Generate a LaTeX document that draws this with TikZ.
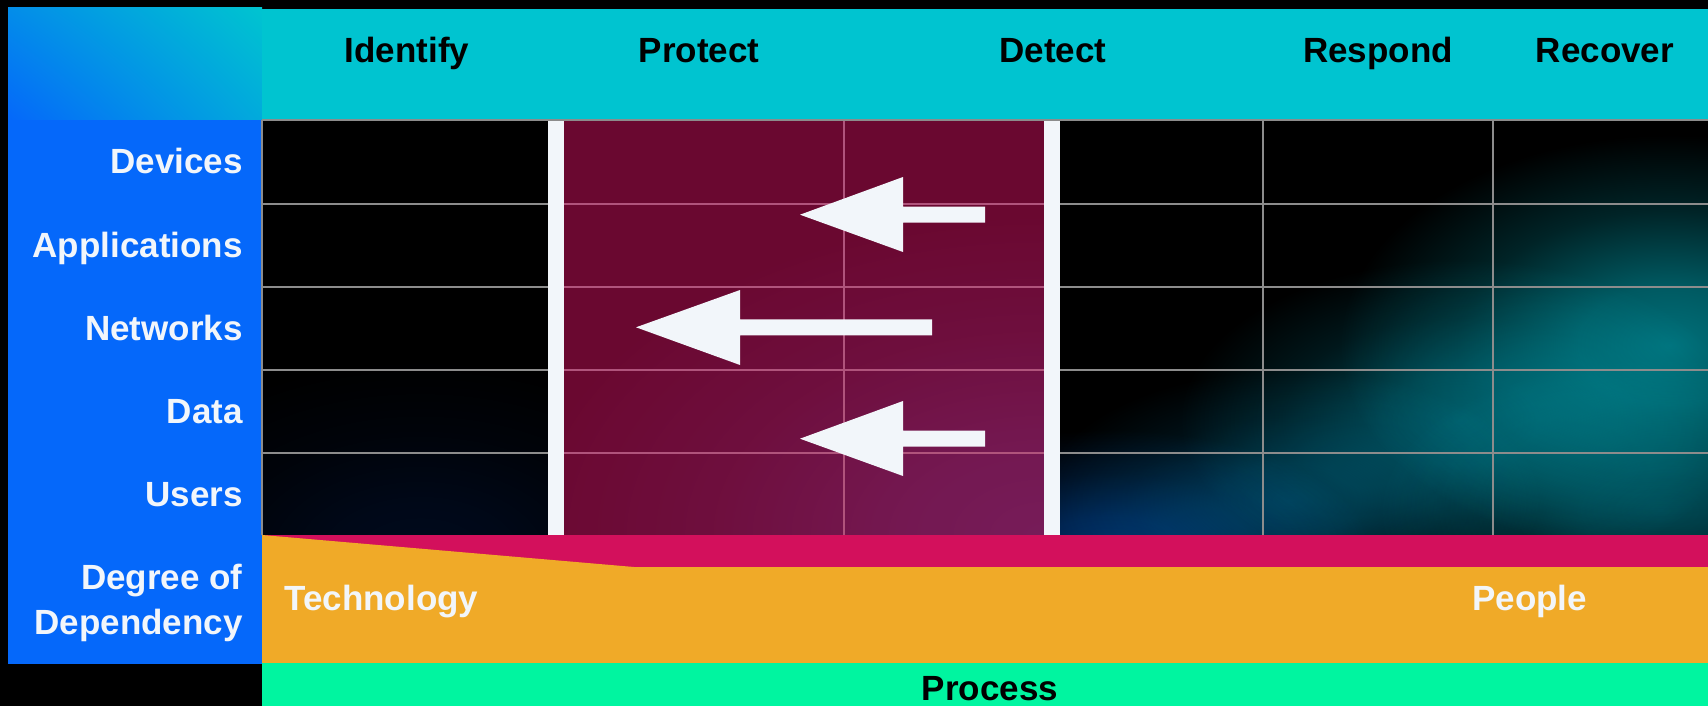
\documentclass[tikz,border=0pt]{standalone}
\usepackage{fontspec}
\setmainfont{Liberation Sans}
\usetikzlibrary{shadings}
\definecolor{hdrcyan}{RGB}{0,196,208}
\definecolor{colblue}{RGB}{5,104,250}
\definecolor{maroon}{RGB}{106,8,48}
\definecolor{maroonglow}{RGB}{20,20,50}
\definecolor{pinkline}{RGB}{176,84,124}
\definecolor{grayline}{RGB}{140,140,140}
\definecolor{offwhite}{RGB}{242,246,250}
\definecolor{magentaband}{RGB}{211,16,92}
\definecolor{orangeband}{RGB}{240,170,40}
\definecolor{greenband}{RGB}{0,245,160}
\definecolor{tealglow}{RGB}{0,112,122}
\definecolor{tealmid}{RGB}{0,72,84}
\definecolor{tealdark}{RGB}{0,50,70}
\definecolor{tealbr}{RGB}{0,56,66}
\definecolor{blueglow}{RGB}{0,42,98}
\definecolor{navyfaint}{RGB}{0,10,30}
\newcommand{\mkglow}[2]{\pgfdeclareradialshading{#1}{\pgfpointorigin}{color(0bp)=(#2); color(7bp)=(#2!80!black); color(16bp)=(#2!32!black); color(25bp)=(black); color(50bp)=(black)}}
\mkglow{gteal}{tealglow}
\mkglow{gtealmid}{tealmid}
\mkglow{gtealdark}{tealdark}
\mkglow{gtealbr}{tealbr}
\mkglow{gblue}{blueglow}
\mkglow{gnavy}{navyfaint}
\mkglow{gmaroon}{maroonglow}
\begin{document}
\begin{tikzpicture}[x=0.5pt,y=-0.5pt,
  lbl/.style={font=\fontsize{17.5pt}{23pt}\selectfont\bfseries, inner sep=0pt},
  hdr/.style={lbl, text=black, anchor=base},
  rowlbl/.style={lbl, text=offwhite, anchor=base east},
  bandlbl/.style={lbl, text=offwhite, anchor=base west},
  glines/.style={draw=grayline, line width=1pt},
  plines/.style={draw=pinkline, line width=1pt},
  glow/.style={shading=#1, blend mode=screen},
  bigarrow/.style={fill=offwhite}]
\useasboundingbox (0,0) rectangle (1708,706);
\fill[black] (0,0) rectangle (1708,706);
% corner gradient
\shade[upper left=hdrcyan!40!colblue, upper right=hdrcyan, lower left=colblue, lower right=hdrcyan!72!colblue] (8,8) rectangle (262,120);
% header
\fill[hdrcyan] (262,9) rectangle (1708,120);
% left column
\fill[colblue] (8,120) rectangle (262,664);
% faint tint in left black cells
\begin{scope}
  \clip (262,120) rectangle (548,535);
  \shade[glow=gnavy] (420,560) ellipse [x radius=320, y radius=200];
\end{scope}
% right dark glow region
\begin{scope}
  \clip (1060,120) rectangle (1708,535);
  \fill[black] (1060,120) rectangle (1708,535);
  \shade[glow=gblue] (1110,550) ellipse [x radius=260, y radius=120];
  \shade[glow=gtealdark] (1290,500) ellipse [x radius=250, y radius=130];
  \shade[glow=gtealmid] (1460,420) ellipse [x radius=280, y radius=160];
  \shade[glow=gtealbr] (1660,510) ellipse [x radius=280, y radius=150];
  \shade[glow=gteal] (1670,345) ellipse [x radius=330, y radius=210];
\end{scope}
% maroon region
\begin{scope}
  \clip (564,120) rectangle (1044,535);
  \fill[maroon] (564,120) rectangle (1044,535);
  \shade[glow=gmaroon] (1044,535) ellipse [x radius=520, y radius=320];
\end{scope}
% grid lines in black regions
\foreach \yy in {120.5,203.7,286.8,369.9,453} {
  \draw[glines] (262,\yy) -- (548,\yy);
  \draw[glines] (1060,\yy) -- (1708,\yy);
}
\draw[glines] (548,120.5) -- (1060,120.5);
\draw[glines] (262,120) -- (262,535);
\draw[glines] (1263,120) -- (1263,535);
\draw[glines] (1493,120) -- (1493,535);
% grid lines in maroon region
\foreach \yy in {203.7,286.8,369.9,453} {
  \draw[plines] (564,\yy) -- (1044,\yy);
}
\draw[plines] (844,121) -- (844,535);
% white bars
\fill[offwhite] (548,121) rectangle (564,535);
\fill[offwhite] (1044,121) rectangle (1060,535);
% bands
\fill[magentaband] (262,535) rectangle (1708,567);
\fill[orangeband] (262,535) -- (634,567) -- (1708,567) -- (1708,663) -- (262,663) -- cycle;
\fill[greenband] (262,663) rectangle (1708,706);
% arrows
\fill[bigarrow] (985,206.7) -- (903,206.7) -- (903,177) -- (800,214.7) -- (903,252) -- (903,222.7) -- (985,222.7) -- cycle;
\fill[bigarrow] (932,319.3) -- (740,319.3) -- (740,290) -- (636,327.3) -- (740,365) -- (740,335.3) -- (932,335.3) -- cycle;
\fill[bigarrow] (985,430.7) -- (903,430.7) -- (903,401) -- (800,438.7) -- (903,476) -- (903,446.7) -- (985,446.7) -- cycle;
% header labels
\node[hdr] (identify) at (407,62.7) {Identify};
\node[hdr] (protect) at (699,62.7) {Protect};
\node[hdr] (detect) at (1053,62.7) {Detect};
\node[hdr] (respond) at (1378,62.7) {Respond};
\node[hdr] (recover) at (1605,62.7) {Recover};
% row labels
\node[rowlbl] (devices) at (243,174) {Devices};
\node[rowlbl] (applications) at (243,257.2) {Applications};
\node[rowlbl] (networks) at (243,340.3) {Networks};
\node[rowlbl] (data) at (243,423.4) {Data};
\node[rowlbl] (users) at (243,506.5) {Users};
\node[rowlbl] (degree) at (243,589) {Degree of};
\node[rowlbl] (dependency) at (243,634) {Dependency};
% band labels
\node[bandlbl] (technology) at (284,610) {Technology};
\node[bandlbl] (people) at (1472,610) {People};
\node[hdr] (process) at (990,700) {Process};
\end{tikzpicture}
\end{document}
